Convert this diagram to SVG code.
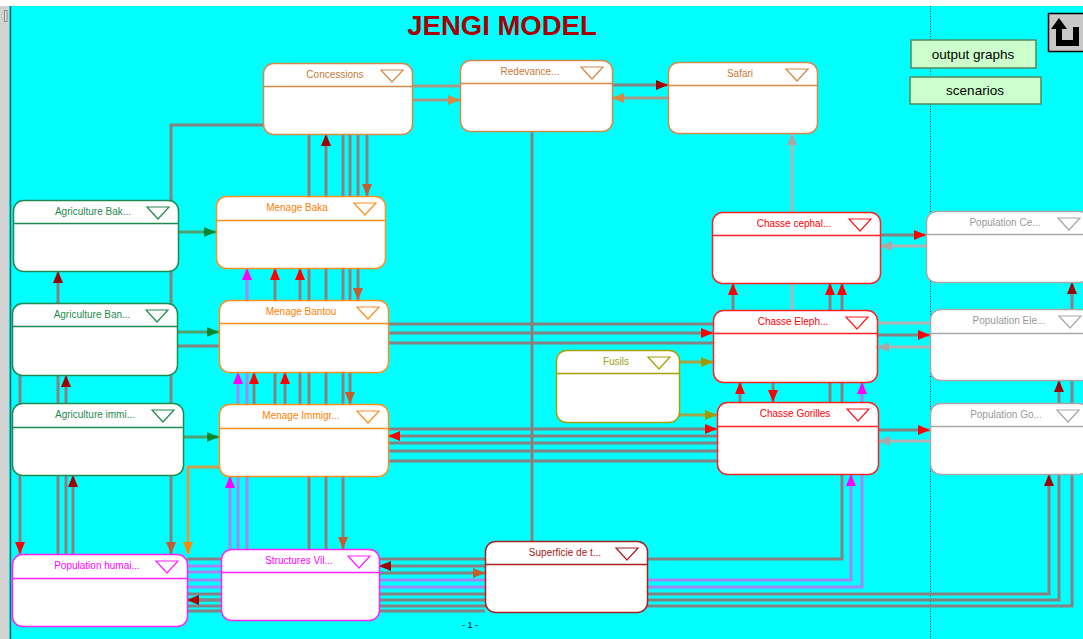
<svg xmlns="http://www.w3.org/2000/svg" width="1083" height="639" viewBox="0 0 1083 639">
<style>
.c{fill:none;stroke:#878282;stroke-width:3}
.cl{fill:none;stroke:#b4b4b4;stroke-width:3}
.ct{fill:none;stroke:#a89a8a;stroke-width:3}
.cg{fill:none;stroke:#4f9f6f;stroke-width:3}
.cp{fill:none;stroke:#a486f4;stroke-width:3}
.co{fill:none;stroke:#d0a050;stroke-width:3}
.col{fill:none;stroke:#a4a448;stroke-width:3}
.n rect{fill:#fff;stroke-width:1.5}
.n line{stroke-width:1.5}
.n polygon{fill:#fff;stroke-width:1.2}
.n text{font-family:"Liberation Sans",Arial,sans-serif;font-size:10px;text-anchor:middle}
.tan rect,.tan line,.tan polygon{stroke:#d48a4a}.tan text{fill:#c8783a}
.grn rect,.grn line,.grn polygon{stroke:#1f8a4f}.grn text{fill:#1f8a4f}
.org rect,.org line,.org polygon{stroke:#ff9020}.org text{fill:#ff8000}
.mag rect,.mag line,.mag polygon{stroke:#ff22ff}.mag text{fill:#ff00ff}
.drd rect,.drd line,.drd polygon{stroke:#a82020}.drd text{fill:#a82020}
.olv rect,.olv line,.olv polygon{stroke:#a8a000}.olv text{fill:#a0a020}
.red rect,.red line,.red polygon{stroke:#ff2020}.red text{fill:#ff0000}
.gry rect,.gry line,.gry polygon{stroke:#a8a8a8}.gry text{fill:#999999}
.btn rect{fill:#ccffcc;stroke:#4e8a5e;stroke-width:1.5}
.btn text{font-family:"Liberation Sans",Arial,sans-serif;font-size:13.5px;text-anchor:middle;fill:#000}
</style>
<defs>
<marker id="a-dr" viewBox="0 0 12 10" refX="12" refY="5" markerWidth="12" markerHeight="10" markerUnits="userSpaceOnUse" orient="auto"><path d="M0,0 L12,5 L0,10 z" fill="#a00000"/></marker>
<marker id="a-r" viewBox="0 0 12 10" refX="12" refY="5" markerWidth="12" markerHeight="10" markerUnits="userSpaceOnUse" orient="auto"><path d="M0,0 L12,5 L0,10 z" fill="#ff0000"/></marker>
<marker id="a-br" viewBox="0 0 12 10" refX="12" refY="5" markerWidth="12" markerHeight="10" markerUnits="userSpaceOnUse" orient="auto"><path d="M0,0 L12,5 L0,10 z" fill="#c85a30"/></marker>
<marker id="a-tan" viewBox="0 0 12 10" refX="12" refY="5" markerWidth="12" markerHeight="10" markerUnits="userSpaceOnUse" orient="auto"><path d="M0,0 L12,5 L0,10 z" fill="#d88840"/></marker>
<marker id="a-o" viewBox="0 0 12 10" refX="12" refY="5" markerWidth="12" markerHeight="10" markerUnits="userSpaceOnUse" orient="auto"><path d="M0,0 L12,5 L0,10 z" fill="#ff8800"/></marker>
<marker id="a-m" viewBox="0 0 12 10" refX="12" refY="5" markerWidth="12" markerHeight="10" markerUnits="userSpaceOnUse" orient="auto"><path d="M0,0 L12,5 L0,10 z" fill="#ff00ff"/></marker>
<marker id="a-g" viewBox="0 0 12 10" refX="12" refY="5" markerWidth="12" markerHeight="10" markerUnits="userSpaceOnUse" orient="auto"><path d="M0,0 L12,5 L0,10 z" fill="#008a30"/></marker>
<marker id="a-ol" viewBox="0 0 12 10" refX="12" refY="5" markerWidth="12" markerHeight="10" markerUnits="userSpaceOnUse" orient="auto"><path d="M0,0 L12,5 L0,10 z" fill="#a09a00"/></marker>
<marker id="a-gr" viewBox="0 0 12 10" refX="12" refY="5" markerWidth="12" markerHeight="10" markerUnits="userSpaceOnUse" orient="auto"><path d="M0,0 L12,5 L0,10 z" fill="#a8a8a8"/></marker>
</defs>

<rect x="0" y="0" width="1083" height="639" fill="#00ffff"/>
<rect x="0" y="0" width="1083" height="6" fill="#ffffff"/>
<rect x="0" y="6" width="9" height="633" fill="#d2d2d2"/>
<rect x="4.5" y="10.5" width="2.5" height="11" fill="#e8e8e8" stroke="#888" stroke-width="1"/>
<line x1="10.5" y1="6" x2="10.5" y2="639" stroke="#1a6a6a" stroke-width="1.5"/>
<line x1="930.5" y1="6" x2="930.5" y2="639" stroke="#303030" stroke-width="1" stroke-dasharray="1 1.5"/>

<text x="502" y="35" font-family="'Liberation Sans',Arial,sans-serif" font-size="27.5" font-weight="bold" fill="#a80000" text-anchor="middle">JENGI MODEL</text>

<g id="connectors">
<path class="ct" d="M412,86H460"/>
<path class="ct" d="M412,100H460" marker-end="url(#a-tan)"/>
<path class="c" d="M612,85H668" marker-end="url(#a-dr)"/>
<path class="ct" d="M668,98H612" marker-end="url(#a-tan)"/>
<path class="c" d="M532,131V541"/>
<path class="cl" d="M792,310V133" marker-end="url(#a-gr)"/>
<path class="c" d="M263,125H171V554" marker-end="url(#a-br)"/>
<path class="c" d="M309,134V549"/>
<path class="c" d="M326,549V134" marker-end="url(#a-dr)"/>
<path class="c" d="M343,134V549" marker-end="url(#a-br)"/>
<path class="c" d="M350,134V404" marker-end="url(#a-br)"/>
<path class="c" d="M358,134V300" marker-end="url(#a-br)"/>
<path class="c" d="M367,134V196" marker-end="url(#a-br)"/>
<path class="cg" d="M178,232H216" marker-end="url(#a-g)"/>
<path class="cg" d="M177,332H219" marker-end="url(#a-g)"/>
<path class="c" d="M177,346H219"/>
<path class="cg" d="M183,437H219" marker-end="url(#a-g)"/>
<path class="c" d="M58,554V271" marker-end="url(#a-dr)"/>
<path class="c" d="M66,554V375" marker-end="url(#a-dr)"/>
<path class="c" d="M73,554V475" marker-end="url(#a-dr)"/>
<path class="c" d="M20,375V554" marker-end="url(#a-r)"/>
<path class="co" d="M219,467H188V554" marker-end="url(#a-o)"/>
<path class="cp" d="M230,549V476" marker-end="url(#a-m)"/>
<path class="cp" d="M238,549V372" marker-end="url(#a-m)"/>
<path class="cp" d="M247,549V268" marker-end="url(#a-m)"/>
<path class="c" d="M254,440V372" marker-end="url(#a-r)"/>
<path class="c" d="M285,440V372" marker-end="url(#a-r)"/>
<path class="c" d="M275,440V268" marker-end="url(#a-r)"/>
<path class="c" d="M300,440V268" marker-end="url(#a-r)"/>
<path class="c" d="M388,324H713"/>
<path class="c" d="M388,333H713" marker-end="url(#a-r)"/>
<path class="c" d="M388,343H713"/>
<path class="c" d="M388,429H717" marker-end="url(#a-r)"/>
<path class="c" d="M717,436H388" marker-end="url(#a-r)"/>
<path class="c" d="M388,443H717"/>
<path class="c" d="M388,451H717"/>
<path class="c" d="M388,461H717"/>
<path class="col" d="M679,362H713" marker-end="url(#a-ol)"/>
<path class="col" d="M679,415H717" marker-end="url(#a-ol)"/>
<path class="c" d="M733,310V283" marker-end="url(#a-r)"/>
<path class="c" d="M830,402V283" marker-end="url(#a-r)"/>
<path class="c" d="M187,559H842V283" marker-end="url(#a-r)"/>
<path class="c" d="M740,402V382" marker-end="url(#a-r)"/>
<path class="c" d="M773,382V402" marker-end="url(#a-r)"/>
<path class="cp" d="M187,580H851V474" marker-end="url(#a-m)"/>
<path class="cp" d="M187,587H862V382" marker-end="url(#a-m)"/>
<path class="c" d="M187,594H1049V474" marker-end="url(#a-dr)"/>
<path class="c" d="M187,600H1059V380" marker-end="url(#a-dr)"/>
<path class="c" d="M187,606H1072V282" marker-end="url(#a-dr)"/>
<path class="c" d="M187,611H485"/>
<path class="cp" d="M187,566H221"/>
<path class="cp" d="M187,572H221"/>
<path class="c" d="M485,566H379" marker-end="url(#a-dr)"/>
<path class="c" d="M379,573H485" marker-end="url(#a-br)"/>
<path class="c" d="M221,600H187" marker-end="url(#a-dr)"/>
<path class="c" d="M880,235H926" marker-end="url(#a-r)"/>
<path class="cl" d="M926,246H880" marker-end="url(#a-gr)"/>
<path class="cl" d="M877,323H930"/>
<path class="c" d="M877,335H930" marker-end="url(#a-r)"/>
<path class="cl" d="M930,347H877" marker-end="url(#a-gr)"/>
<path class="c" d="M878,430H930" marker-end="url(#a-r)"/>
<path class="cl" d="M930,441H878" marker-end="url(#a-gr)"/>
</g>

<g id="concessions" class="n tan"><rect x="263.5" y="63.5" width="149" height="71" rx="10"/><line x1="263.5" y1="86.5" x2="412.5" y2="86.5"/><polygon points="381,70 403,70 392,82"/><text x="335" y="78">Concessions</text></g>
<g id="redevance" class="n tan"><rect x="460.5" y="60.5" width="152" height="71" rx="10"/><line x1="460.5" y1="83.5" x2="612.5" y2="83.5"/><polygon points="581,67 603,67 592,79"/><text x="530" y="75">Redevance...</text></g>
<g id="safari" class="n tan"><rect x="668.5" y="62.5" width="149" height="71" rx="10"/><line x1="668.5" y1="85.5" x2="817.5" y2="85.5"/><polygon points="786,69 808,69 797,81"/><text x="740" y="77">Safari</text></g>
<g id="agri-baka" class="n grn"><rect x="13.5" y="200.5" width="165" height="71" rx="10"/><line x1="13.5" y1="223.5" x2="178.5" y2="223.5"/><polygon points="147,207 169,207 158,219"/><text x="93" y="215">Agriculture Bak...</text></g>
<g id="menage-baka" class="n org"><rect x="216.5" y="196.5" width="169" height="72" rx="10"/><line x1="216.5" y1="220.5" x2="385.5" y2="220.5"/><polygon points="354,203 376,203 365,215"/><text x="297" y="211">Menage Baka</text></g>
<g id="agri-bantou" class="n grn"><rect x="12.5" y="303.5" width="165" height="72" rx="10"/><line x1="12.5" y1="326.5" x2="177.5" y2="326.5"/><polygon points="146,310 168,310 157,322"/><text x="92" y="318">Agriculture Ban...</text></g>
<g id="menage-bantou" class="n org"><rect x="219.5" y="300.5" width="169" height="72" rx="10"/><line x1="219.5" y1="323.5" x2="388.5" y2="323.5"/><polygon points="357,307 379,307 368,319"/><text x="301" y="315">Menage Bantou</text></g>
<g id="agri-immi" class="n grn"><rect x="12.5" y="403.5" width="171" height="72" rx="10"/><line x1="12.5" y1="427.5" x2="183.5" y2="427.5"/><polygon points="152,410 174,410 163,422"/><text x="95" y="418">Agriculture immi...</text></g>
<g id="menage-immigr" class="n org"><rect x="219.5" y="404.5" width="169" height="72" rx="10"/><line x1="219.5" y1="428.5" x2="388.5" y2="428.5"/><polygon points="357,411 379,411 368,423"/><text x="301" y="419">Menage Immigr...</text></g>
<g id="pop-humaine" class="n mag"><rect x="12.5" y="554.5" width="175" height="72" rx="10"/><line x1="12.5" y1="578.5" x2="187.5" y2="578.5"/><polygon points="156,561 178,561 167,573"/><text x="97" y="569">Population humai...</text></g>
<g id="structures" class="n mag"><rect x="221.5" y="549.5" width="158" height="71" rx="10"/><line x1="221.5" y1="572.5" x2="379.5" y2="572.5"/><polygon points="348,556 370,556 359,568"/><text x="299" y="564">Structures Vil...</text></g>
<g id="superficie" class="n drd"><rect x="485.5" y="541.5" width="162" height="71" rx="10"/><line x1="485.5" y1="564.5" x2="647.5" y2="564.5"/><polygon points="616,548 638,548 627,560"/><text x="565" y="556">Superficie de t...</text></g>
<g id="fusils" class="n olv"><rect x="556.5" y="350.5" width="123" height="72" rx="10"/><line x1="556.5" y1="373.5" x2="679.5" y2="373.5"/><polygon points="648,357 670,357 659,369"/><text x="616" y="365">Fusils</text></g>
<g id="chasse-cephal" class="n red"><rect x="712.5" y="212.5" width="168" height="71" rx="10"/><line x1="712.5" y1="235.5" x2="880.5" y2="235.5"/><polygon points="849,219 871,219 860,231"/><text x="794" y="227">Chasse cephal...</text></g>
<g id="chasse-eleph" class="n red"><rect x="713.5" y="310.5" width="164" height="72" rx="10"/><line x1="713.5" y1="333.5" x2="877.5" y2="333.5"/><polygon points="846,317 868,317 857,329"/><text x="793" y="325">Chasse Eleph...</text></g>
<g id="chasse-gorilles" class="n red"><rect x="717.5" y="402.5" width="161" height="72" rx="10"/><line x1="717.5" y1="426.5" x2="878.5" y2="426.5"/><polygon points="847,409 869,409 858,421"/><text x="795" y="417">Chasse Gorilles</text></g>
<g id="pop-cephal" class="n gry"><rect x="926.5" y="211.5" width="163" height="71" rx="10"/><line x1="926.5" y1="234.5" x2="1089.5" y2="234.5"/><polygon points="1058,218 1080,218 1069,230"/><text x="1005" y="226">Population Ce...</text></g>
<g id="pop-eleph" class="n gry"><rect x="930.5" y="309.5" width="160" height="71" rx="10"/><line x1="930.5" y1="333.5" x2="1090.5" y2="333.5"/><polygon points="1059,316 1081,316 1070,328"/><text x="1009" y="324">Population Ele...</text></g>
<g id="pop-gorilles" class="n gry"><rect x="930.5" y="403.5" width="158" height="71" rx="10"/><line x1="930.5" y1="426.5" x2="1088.5" y2="426.5"/><polygon points="1057,410 1079,410 1068,422"/><text x="1006" y="418">Population Go...</text></g>

<g id="btn-output" class="btn"><rect x="911" y="40" width="125" height="28"/><text x="973" y="59">output graphs</text></g>
<g id="btn-scenarios" class="btn"><rect x="910" y="77" width="131" height="27"/><text x="975" y="95">scenarios</text></g>
<g id="btn-up">
<rect x="1048.5" y="13.5" width="40" height="38" fill="#c8c8c8" stroke="#000" stroke-width="1.5"/>
<polygon points="1051,29 1059,18 1067,29" fill="#000"/>
<rect x="1056" y="28" width="6" height="18" fill="#000"/>
<rect x="1056" y="40" width="23" height="6" fill="#000"/>
<rect x="1073" y="27" width="6" height="19" fill="#000"/>
</g>
<text x="470" y="628" font-family="'Liberation Sans',Arial,sans-serif" font-size="9" fill="#000" text-anchor="middle">- 1 -</text>
</svg>
